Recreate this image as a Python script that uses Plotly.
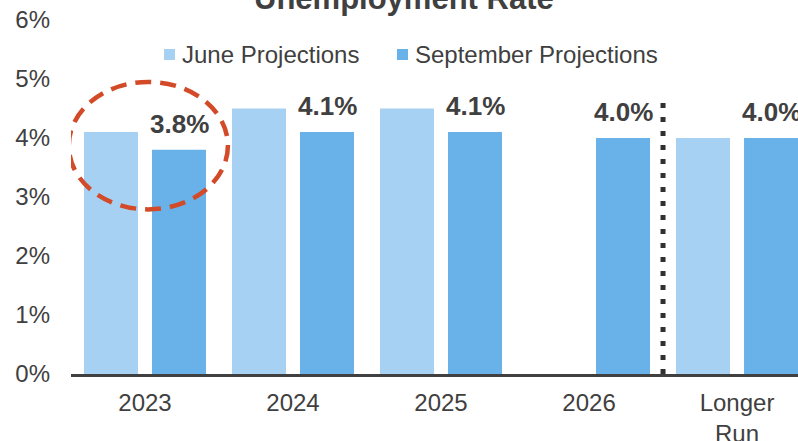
import plotly.graph_objects as go

# Projection data (percent)
categories = ["2023", "2024", "2025", "2026", "Longer<br>Run"]
june_values = [4.1, 4.5, 4.5, None, 4.0]
september_values = [3.8, 4.1, 4.1, 4.0, 4.0]
y_tick_values = [0, 1, 2, 3, 4, 5, 6]
y_tick_labels = ["0%", "1%", "2%", "3%", "4%", "5%", "6%"]
series_names = ["June Projections", "September Projections"]

JUNE_COLOR = "#A6D1F2"
SEPT_COLOR = "#68B2E9"
TEXT_COLOR = "#404040"
FONT = "Arial, Liberation Sans, sans-serif"

W, H = 798, 441
M_L, M_R, M_T, M_B = 71, 0, 20, 67
PLOT_H = H - M_T - M_B
PLOT_W = W - M_L - M_R

x_idx = list(range(len(categories)))

fig = go.Figure()
fig.add_trace(go.Bar(x=x_idx, y=june_values, name=series_names[0],
                     marker=dict(color=JUNE_COLOR, line=dict(width=0))))
fig.add_trace(go.Bar(x=x_idx, y=september_values, name=series_names[1],
                     marker=dict(color=SEPT_COLOR, line=dict(width=0))))

# Value labels above the September bars
for i, v in enumerate(september_values):
    fig.add_annotation(x=i, y=v, xref="x", yref="y", text=f"{v:.1f}%",
                       showarrow=False, xshift=34, yshift=9, yanchor="bottom",
                       font=dict(family=FONT, size=26, color=TEXT_COLOR, weight="bold"))

# Chart title
fig.add_annotation(x=(404 - M_L) / PLOT_W, y=1 + (M_T - 18) / PLOT_H,
                   xref="paper", yref="paper",
                   text="<b>Unemployment Rate</b>", showarrow=False,
                   xanchor="center", yanchor="bottom",
                   font=dict(family=FONT, size=31, color=TEXT_COLOR))

# Legend: colour swatches with labels
def px_x(p):
    return (p - M_L) / PLOT_W

def px_y(p):
    return 1 - (p - M_T) / PLOT_H

legend_items = [(164, 180, JUNE_COLOR), (397, 413, SEPT_COLOR)]
for name, (sx, tx, col) in zip(series_names, legend_items):
    fig.add_shape(type="rect", xref="paper", yref="paper",
                  x0=px_x(sx), x1=px_x(sx + 11), y0=px_y(60), y1=px_y(49),
                  fillcolor=col, line=dict(width=0))
    fig.add_annotation(x=px_x(tx), y=px_y(54.5), xref="paper", yref="paper",
                       text=name, showarrow=False, xanchor="left", yanchor="middle",
                       font=dict(family=FONT, size=24, color=TEXT_COLOR))

# Dotted separator before the longer-run projections
fig.add_shape(type="line", xref="x", yref="y", x0=3.5, x1=3.5, y0=0, y1=4.72,
              line=dict(color="#303030", width=5, dash="5px,9px"))

# Highlight around the 2023 projections
fig.add_shape(type="circle", xref="x", yref="y", x0=-0.515, x1=0.56, y0=2.79, y1=4.95,
              line=dict(color="#D24A27", width=4.5, dash="16px,9px"))

fig.update_layout(
    width=W, height=H,
    margin=dict(l=M_L, r=M_R, t=M_T, b=M_B),
    paper_bgcolor="white", plot_bgcolor="white",
    barmode="group", bargap=0.081, bargroupgap=0.206,
    font=dict(family=FONT, size=24, color=TEXT_COLOR),
    showlegend=False,
)
fig.update_xaxes(range=[-0.5, 4.412], tickmode="array", tickvals=x_idx,
                 ticktext=categories, showgrid=False, zeroline=False,
                 showline=True, linecolor="#404040", linewidth=3,
                 ticks="", ticklabelstandoff=5, automargin=False,
                 tickfont=dict(family=FONT, size=24, color=TEXT_COLOR))
fig.update_yaxes(range=[0, 6], tickmode="array", tickvals=y_tick_values,
                 ticktext=y_tick_labels, showgrid=False, zeroline=False,
                 showline=False, ticks="", ticklabelstandoff=20, automargin=False,
                 tickfont=dict(family=FONT, size=24, color=TEXT_COLOR))

fig.write_html("out.html")
